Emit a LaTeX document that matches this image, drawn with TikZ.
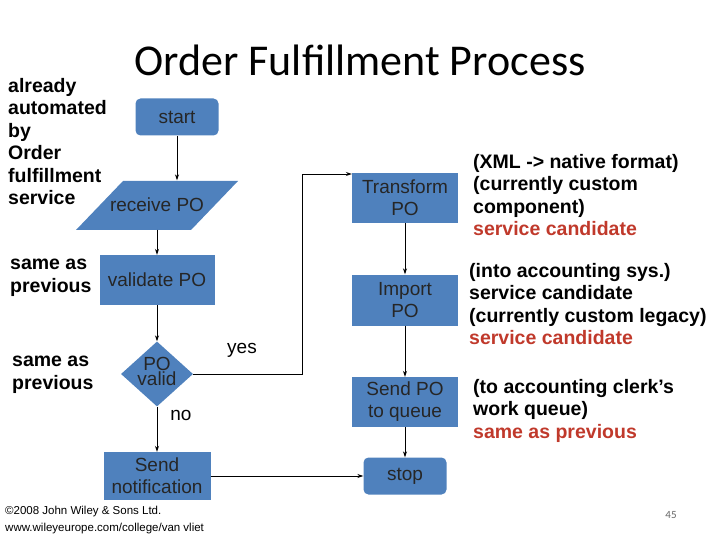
\documentclass[tikz,border=0pt]{standalone}
\usepackage{fontspec}
\setmainfont{Liberation Sans}
\newfontfamily\carl{Carlito}
\usetikzlibrary{shapes.geometric,arrows.meta}
\definecolor{boxblue}{RGB}{79,129,189}
\definecolor{redtxt}{RGB}{192,57,43}
\begin{document}
\begin{tikzpicture}[x=1pt,y=-1pt,
  box/.style={fill=boxblue,draw=none,minimum width=#1,align=center,inner sep=0pt,font=\fontsize{19}{22}\selectfont,text=black!85},
  box/.default=106pt,
  arr/.style={-{Stealth[length=6pt,width=4pt]},line width=0.9pt},
  ln/.style={line width=0.9pt},
  ann/.style={anchor=north west,align=left,font=\bfseries\fontsize{19.5}{22.5}\selectfont,inner sep=0pt}]
\useasboundingbox (0,0) rectangle (720,540);
\node[font=\carl\fontsize{44}{48}\selectfont] (title) at (360,60) {Order Fulfillment Process};
\node[box=83pt,minimum height=37pt,rounded corners=5pt] (start) at (177,117) {start};
\fill[boxblue] (123,181) -- (238,181) -- (191,230) -- (76,230) -- cycle;
\node[font=\fontsize{19}{22}\selectfont,text=black!85,minimum width=115pt,minimum height=49pt,inner sep=0pt] (recv) at (157,205) {receive PO};
\node[box=115pt,minimum height=50pt] (valid) at (157,280) {validate PO};
\node[diamond,fill=boxblue,minimum width=72pt,minimum height=65pt,inner sep=0pt,aspect=1.1] (dia) at (157,374) {};
\node[font=\fontsize{19}{15}\selectfont,align=center,text=black!85] (dtxt) at (157,371) {PO\\valid};
\node[box=107pt,minimum height=48pt] (notif) at (157,476) {Send\\notification};
\node[box=106pt,minimum height=50pt] (trans) at (405,198) {Transform\\PO};
\node[box=106pt,minimum height=51pt] (imp) at (405,300) {Import\\PO};
\node[box=106pt,minimum height=50pt] (sendq) at (405,402) {Send PO\\to queue};
\node[box=83pt,minimum height=37pt,rounded corners=5pt] (stop) at (405,476) {stop};
\coordinate (c1) at (302,374);
\coordinate (c2) at (302,174);
\draw[arr] (start) -- (start|-recv.north);
\draw[arr] (recv.south) -- (valid);
\draw[arr] (valid) -- (dia);
\draw[arr] (dia) -- (notif);
\draw[ln] (dia.east) -- (c1) -- (c2);
\draw[arr] (c2) -- (c2-|trans.west);
\draw[arr] (trans) -- (imp);
\draw[arr] (imp) -- (sendq);
\draw[arr] (sendq) -- (stop);
\draw[arr] (notif) -- (stop);
\node[font=\fontsize{19}{22}\selectfont] (yes) at (242,350) {yes};
\node[font=\fontsize{19}{22}\selectfont] (no) at (181,415) {no};
\node[ann] (a1) at (8,78) {already\\automated\\by\\Order\\fulfillment\\service};
\node[ann] (a2) at (10,259) {same as\\previous};
\node[ann] (a3) at (12,356) {same as\\previous};
\node[ann] (r1) at (473,154) {(XML -> native format)\\(currently custom\\component)\\\textcolor{redtxt}{service candidate}};
\node[ann] (r2) at (469,263) {(into accounting sys.)\\service candidate\\(currently custom legacy)\\\textcolor{redtxt}{service candidate}};
\node[ann] (r3) at (473,379) {(to accounting clerk's\\work queue)\\\textcolor{redtxt}{same as previous}};
\node[anchor=north west,align=left,inner sep=0pt,font=\fontsize{11.5}{17}\selectfont] (copy) at (5,506) {\textcopyright2008 John Wiley \& Sons Ltd.\\www.wileyeurope.com/college/van vliet};
\node[font=\carl\fontsize{11}{12}\selectfont,text=black!60] (pg) at (671,515) {45};
\end{tikzpicture}
\end{document}
